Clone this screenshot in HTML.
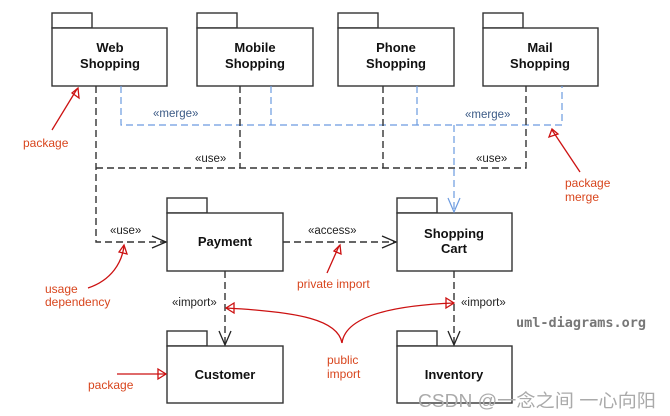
<!DOCTYPE html>
<html><head><meta charset="utf-8"><style>
html,body{margin:0;padding:0;background:#fff;width:670px;height:416px;overflow:hidden}
svg{display:block}
.b{font-family:"Liberation Sans",sans-serif;font-weight:bold;font-size:13px;fill:#111;text-anchor:middle}
.l{font-family:"Liberation Sans",sans-serif;font-size:11.5px;fill:#222}
.m{font-family:"Liberation Sans",sans-serif;font-size:11.5px;fill:#3b5a86}
.r{font-family:"Liberation Sans",sans-serif;font-size:12px;fill:#d8461e}
</style></head><body>
<svg width="670" height="416" viewBox="0 0 670 416" xmlns="http://www.w3.org/2000/svg">
<g fill="#fff" stroke="#333" stroke-width="1.4">
<rect x="52" y="13" width="40" height="15"/><rect x="52" y="28" width="115" height="58"/>
<rect x="197" y="13" width="40" height="15"/><rect x="197" y="28" width="116" height="58"/>
<rect x="338" y="13" width="40" height="15"/><rect x="338" y="28" width="116" height="58"/>
<rect x="483" y="13" width="40" height="15"/><rect x="483" y="28" width="115" height="58"/>
<rect x="167" y="198" width="40" height="15"/><rect x="167" y="213" width="116" height="58"/>
<rect x="397" y="198" width="40" height="15"/><rect x="397" y="213" width="115" height="58"/>
<rect x="167" y="331" width="40" height="15"/><rect x="167" y="346" width="116" height="57"/>
<rect x="397" y="331" width="40" height="15"/><rect x="397" y="346" width="115" height="57"/>
</g>
<text class="b" x="110" y="52">Web</text><text class="b" x="110" y="68">Shopping</text>
<text class="b" x="255" y="52">Mobile</text><text class="b" x="255" y="68">Shopping</text>
<text class="b" x="396" y="52">Phone</text><text class="b" x="396" y="68">Shopping</text>
<text class="b" x="540" y="52">Mail</text><text class="b" x="540" y="68">Shopping</text>
<text class="b" x="225" y="246">Payment</text>
<text class="b" x="454" y="238">Shopping</text><text class="b" x="454" y="253">Cart</text>
<text class="b" x="225" y="379">Customer</text>
<text class="b" x="454" y="379">Inventory</text>
<g fill="none" stroke="#6c9be0" stroke-width="1.2" stroke-dasharray="7,4">
<path d="M121 86 V125 H562 V86"/><path d="M271 86 V125"/><path d="M417 86 V125"/><path d="M454 125 V212"/>
</g>
<path d="M448 198 L454 212 L460 198" fill="none" stroke="#6c9be0" stroke-width="1.2"/>
<g fill="none" stroke="#333" stroke-width="1.4" stroke-dasharray="7,4">
<path d="M96 86 V242 H166"/><path d="M96 168 H526 V86"/><path d="M240 86 V168"/><path d="M383 86 V168"/>
<path d="M283 242 H396"/><path d="M225 271 V345"/><path d="M454 271 V345"/>
</g>
<g fill="none" stroke="#222" stroke-width="1.3">
<path d="M152 236 L166 242 L152 248"/><path d="M382 236 L396 242 L382 248"/>
<path d="M219 331 L225 345 L231 331"/><path d="M448 331 L454 345 L460 331"/>
</g>
<text class="m" x="153" y="117">«merge»</text><text class="m" x="465" y="118">«merge»</text>
<text class="l" x="195" y="162">«use»</text><text class="l" x="476" y="162">«use»</text>
<text class="l" x="110" y="234">«use»</text><text class="l" x="308" y="234">«access»</text>
<text class="l" x="172" y="306">«import»</text><text class="l" x="461" y="306">«import»</text>
<g fill="none" stroke="#cc1111" stroke-width="1.3">
<path d="M52 130 L77 89"/><path d="M72 93 L78 88 L79 98 Z"/>
<path d="M580 172 L552 130"/><path d="M549 137 L552 129 L558 134 Z"/>
<path d="M88 288 C112 280 122 262 124 246"/><path d="M119 252 L124 245 L127 254 Z"/>
<path d="M327 273 L339 246"/><path d="M334 251 L340 245 L341 254 Z"/>
<path d="M117 374 H166"/><path d="M158 369 L166 374 L158 379 Z"/>
<path d="M342 343 C338 320 300 312 226 308"/><path d="M234 303 L226 308 L234 313 Z"/>
<path d="M342 343 C345 320 380 306 454 303"/><path d="M446 298 L454 303 L446 308 Z"/>
</g>
<text class="r" x="23" y="147">package</text>
<text class="r" x="565" y="187">package</text><text class="r" x="565" y="201">merge</text>
<text class="r" x="45" y="293">usage</text><text class="r" x="45" y="306">dependency</text>
<text class="r" x="297" y="288">private import</text>
<text class="r" x="88" y="389">package</text>
<text class="r" x="327" y="364">public</text><text class="r" x="327" y="378">import</text>
<text x="516" y="327" style="font-family:'DejaVu Sans Mono','Liberation Mono',monospace;font-weight:bold;font-size:13.5px;fill:#777">uml-diagrams.org</text>
<text x="418" y="407" textLength="238" lengthAdjust="spacingAndGlyphs" style="font-family:'Liberation Sans','Noto Sans CJK SC',sans-serif;font-size:18px;fill:#aaa">CSDN @一念之间 一心向阳</text>
</svg>
</body></html>
